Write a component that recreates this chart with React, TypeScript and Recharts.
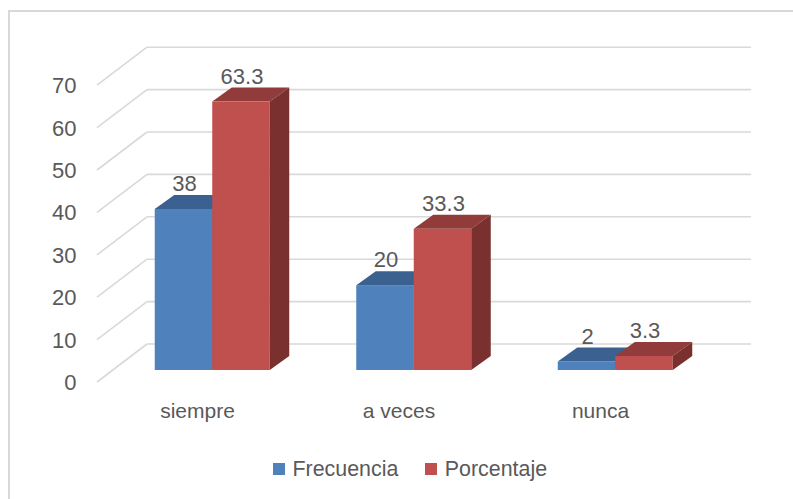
import React from 'react';
import { BarChart, Bar, XAxis, YAxis, CartesianGrid, Legend, LabelList } from 'recharts';

const categories = ['siempre', 'a veces', 'nunca'];
const frecuencia = [38, 20, 2];
const porcentaje = [63.3, 33.3, 3.3];
const yTicks = [0, 10, 20, 30, 40, 50, 60, 70];

const data = categories.map((name, i) => ({
  name,
  frecuencia: frecuencia[i],
  porcentaje: porcentaje[i],
}));

const FONT = '"Liberation Sans", Arial, sans-serif';
const TEXT = '#595959';
const GRID = '#D9D9D9';
const DEPTH_X = 19.5;
const DEPTH_Y = 14;
const WALL_DX = 50;
const WALL_DY = 38;
const WALL_BACK = 26;

const BLUE = { front: '#4F81BD', top: '#3B6190', side: '#2F4F77' };
const RED = { front: '#C0504D', top: '#913C3A', side: '#7A302E' };

const makeBox = (c: typeof BLUE) => (props: any) => {
  const { x, y, width, height } = props;
  if (height == null || isNaN(height)) return <g />;
  const r = x + width;
  const b = y + height;
  return (
    <g>
      <rect x={x} y={y} width={width} height={height} fill={c.front} />
      <polygon
        points={`${x},${y} ${x + DEPTH_X},${y - DEPTH_Y} ${r + DEPTH_X},${y - DEPTH_Y} ${r},${y}`}
        fill={c.top}
      />
      <polygon
        points={`${r},${y} ${r + DEPTH_X},${y - DEPTH_Y} ${r + DEPTH_X},${b - DEPTH_Y} ${r},${b}`}
        fill={c.side}
      />
    </g>
  );
};

// back wall line plus the slanted line on the left side wall
const wallLine = (props: any) => {
  const { x1, x2, y1, key } = props;
  return (
    <g key={key}>
      <line x1={x1} y1={y1} x2={x2} y2={y1} stroke={GRID} strokeWidth={1.6} />
      <line x1={x1 - WALL_DX} y1={y1 + WALL_DY} x2={x1} y2={y1} stroke={GRID} strokeWidth={1.6} />
    </g>
  );
};

const wallCoords = ({ yAxis, offset }: any) =>
  yTicks.map((v) => {
    if (yAxis && typeof yAxis.scale === 'function') return yAxis.scale(v) - WALL_BACK;
    return offset.top + offset.height * (1 - v / 70) - WALL_BACK;
  });

const YTick = (props: any) => {
  const { y, payload } = props;
  return (
    <text x={76.5} y={y + WALL_DY - WALL_BACK + 8} textAnchor="end" fill={TEXT} fontSize={22} fontFamily={FONT}>
      {payload.value}
    </text>
  );
};

const XTick = (props: any) => {
  const { x, payload } = props;
  return (
    <text x={x - 15} y={418} textAnchor="middle" fill={TEXT} fontSize={21} fontFamily={FONT}>
      {payload.value}
    </text>
  );
};

const valueLabel = (props: any) => {
  const { x, y, width, value } = props;
  return (
    <text x={x + width / 2 + 1} y={y - DEPTH_Y - 4} textAnchor="middle" fill={TEXT} fontSize={22} fontFamily={FONT}>
      {value}
    </text>
  );
};

const legendItems = [
  { label: 'Frecuencia', color: BLUE.front },
  { label: 'Porcentaje', color: RED.front },
];

const LegendContent = () => (
  <div style={{ display: 'flex', alignItems: 'center', gap: 27, fontFamily: FONT, fontSize: 21.4, color: TEXT }}>
    {legendItems.map((it) => (
      <div key={it.label} style={{ display: 'flex', alignItems: 'center', gap: 8 }}>
        <span style={{ display: 'inline-block', width: 11.5, height: 11.5, background: it.color }} />
        <span style={{ lineHeight: '24px' }}>{it.label}</span>
      </div>
    ))}
  </div>
);

export default function App() {
  return (
    <div style={{ position: 'absolute', left: 0, top: 0, width: 793, height: 499, overflow: 'hidden', background: '#fff' }}>
      <div
        style={{
          position: 'absolute',
          left: 8,
          top: 10,
          width: 900,
          height: 600,
          borderLeft: `2px solid ${GRID}`,
          borderTop: `2px solid ${GRID}`,
        }}
      />
      <div style={{ position: 'absolute', left: 0, top: 0 }}>
        <BarChart
          width={793}
          height={499}
          data={data}
          barGap={0}
          barSize={57.5}
          margin={{ top: 73.2, right: 76.75, bottom: 99, left: 51.75 }}
        >
          <CartesianGrid
            vertical={false}
            x={147}
            y={0}
            width={604}
            height={499}
            horizontalCoordinatesGenerator={wallCoords}
            horizontal={wallLine}
          />
          <XAxis dataKey="name" axisLine={false} tickLine={false} height={30} tick={XTick} interval={0} />
          <YAxis
            domain={[0, 70]}
            ticks={yTicks}
            axisLine={false}
            tickLine={false}
            width={60}
            tick={YTick}
            interval={0}
          />
          <Legend
            verticalAlign="middle"
            align="center"
            layout="horizontal"
            wrapperStyle={{ left: 273, top: 457, width: 330 }}
            content={LegendContent}
          />
          <Bar dataKey="frecuencia" name="Frecuencia" fill={BLUE.front} shape={makeBox(BLUE)} isAnimationActive={false}>
            <LabelList dataKey="frecuencia" content={valueLabel} />
          </Bar>
          <Bar dataKey="porcentaje" name="Porcentaje" fill={RED.front} shape={makeBox(RED)} isAnimationActive={false}>
            <LabelList dataKey="porcentaje" content={valueLabel} />
          </Bar>
        </BarChart>
      </div>
    </div>
  );
}
